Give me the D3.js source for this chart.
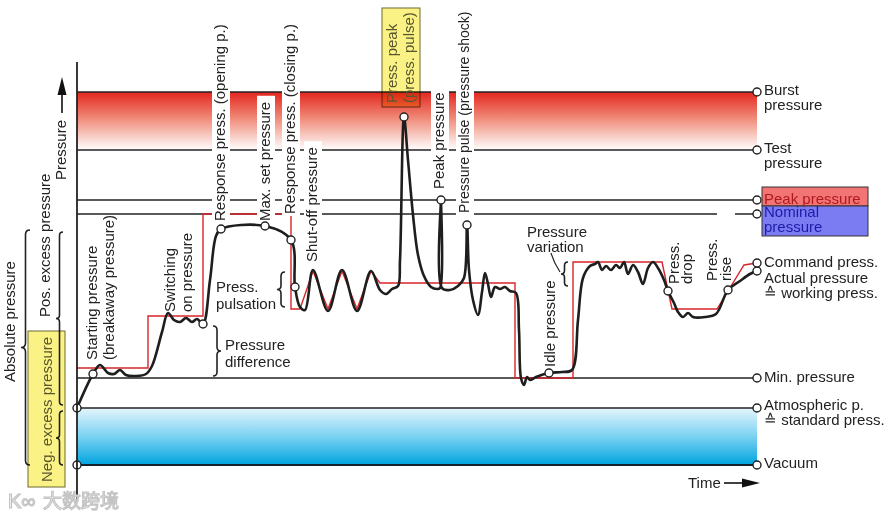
<!DOCTYPE html>
<html>
<head>
<meta charset="utf-8">
<script src="https://cdn.jsdelivr.net/npm/d3@7"></script>
<style>
  body { margin: 0; background: #fff; }
  text { font-family: "Liberation Sans", Arial, sans-serif; font-size: 15px; fill: #222; }
</style>
</head>
<body>
<svg id="chart" width="889" height="519"></svg>
<script>
// pressure levels (arbitrary units, vacuum = 0)
const levelNames = ['Burst', 'Test', 'Peak', 'Nominal', 'Min', 'Atmospheric', 'Vacuum'];
const levelValues = [373, 315, 265, 251, 87, 57, 0];
const levelLabels = [
  ['Burst', 'pressure'],
  ['Test', 'pressure'],
  ['Peak pressure'],
  ['Nominal', 'pressure'],
  ['Min. pressure'],
  ['Atmospheric p.', '\u2259 standard press.'],
  ['Vacuum']
];

// command pressure (red step line)
const commandTime = [0, 71, 71, 126, 126, 214, 214, 223, 236, 251, 265, 280, 294, 303, 438, 438, 496, 496, 585, 595, 640, 667, 680];
const commandPressure = [97, 97, 149, 149, 251, 251, 156, 156, 194, 156, 194, 156, 194, 182, 182, 87, 87, 203, 203, 156, 156, 200, 202];

// actual pressure (black curve)
const actualTime = [0, 16, 23, 31, 37, 43, 49, 59, 69, 75, 85, 91, 97, 103, 109, 115, 120, 126, 133, 139, 144,
  188, 214, 218, 223, 228, 236, 251, 265, 280, 294, 303, 309, 315, 321, 323, 327, 331, 336, 341, 347, 354, 360,
  363, 364, 365, 373, 381, 387, 390, 392, 396, 401, 405, 408, 411, 414, 418, 423, 428, 433, 439, 442, 444, 447,
  450, 453, 459, 472, 485, 495, 501, 506, 513, 518, 521, 525, 529, 534, 539, 543, 547, 551, 556, 561, 566, 571,
  576, 581, 587, 591, 597, 601, 606, 611, 616, 628, 639, 651, 663, 673, 680];
const actualPressure = [57, 91, 100, 92, 91, 95, 90, 89, 91, 99, 133, 152, 145, 143, 147, 143, 146, 141, 185, 229, 236,
  239, 225, 178, 158, 155, 195, 154, 195, 154, 194, 175, 171, 176, 179, 205, 348, 305, 250, 210, 189, 178, 176,
  177, 265, 177, 175, 179, 187, 240, 195, 165, 150, 173, 192, 181, 168, 178, 176, 178, 174, 172, 135, 87, 80,
  88, 85, 88, 92, 93, 95, 145, 187, 199, 201, 203, 195, 199, 195, 200, 197, 203, 191, 200, 193, 181, 197,
  203, 197, 185, 174, 162, 153, 148, 152, 148, 148, 151, 175, 184, 191, 194];

// points on the actual curve marked with a circle
const markerTimes = [0, 16, 126, 144, 188, 214, 218, 327, 364, 390, 472, 591, 651, 680];

const width = 889, height = 519;
const x = d3.scaleLinear().domain([0, 680]).range([77, 757]);
const y = d3.scaleLinear().domain([0, 373]).range([465, 92]);

const svg = d3.select('#chart');
const defs = svg.append('defs');

const redGrad = defs.append('linearGradient').attr('id', 'redGrad')
  .attr('x1', 0).attr('y1', 0).attr('x2', 0).attr('y2', 1);
redGrad.append('stop').attr('offset', 0).attr('stop-color', '#e3261f');
redGrad.append('stop').attr('offset', 0.45).attr('stop-color', '#f08a78');
redGrad.append('stop').attr('offset', 1).attr('stop-color', '#ffffff');

const blueGrad = defs.append('linearGradient').attr('id', 'blueGrad')
  .attr('x1', 0).attr('y1', 0).attr('x2', 0).attr('y2', 1);
blueGrad.append('stop').attr('offset', 0).attr('stop-color', '#e4f5fc');
blueGrad.append('stop').attr('offset', 0.5).attr('stop-color', '#7ad2f2');
blueGrad.append('stop').attr('offset', 1).attr('stop-color', '#00a4de');

// bands
svg.append('rect')
  .attr('x', x(0)).attr('y', y(levelValues[0]))
  .attr('width', x(680) - x(0)).attr('height', y(levelValues[1]) - y(levelValues[0]))
  .attr('fill', 'url(#redGrad)');
svg.append('rect')
  .attr('x', x(0)).attr('y', y(levelValues[5]))
  .attr('width', x(680) - x(0)).attr('height', y(0) - y(levelValues[5]))
  .attr('fill', 'url(#blueGrad)');

// level lines
svg.selectAll('.level')
  .data(levelValues)
  .enter()
  .append('line')
  .attr('x1', x(0)).attr('x2', x(680))
  .attr('y1', d => y(d)).attr('y2', d => y(d))
  .attr('stroke', (d, i) => i === 6 ? '#16222c' : '#222')
  .attr('stroke-width', (d, i) => i === 6 ? 2.2 : 1.6);

// gap in nominal line
svg.append('rect')
  .attr('x', x(640)).attr('y', y(251) - 3)
  .attr('width', x(658) - x(640)).attr('height', 6)
  .attr('fill', '#fff');

// command line
const line = d3.line().x(d => x(d[0])).y(d => y(d[1]));
svg.append('path')
  .datum(d3.zip(commandTime, commandPressure))
  .attr('d', line)
  .attr('fill', 'none')
  .attr('stroke', '#d8262a')
  .attr('stroke-width', 1.4);

// vertical annotations (positions in time / pressure units)
const vLabels = [
  { lines: ['Starting pressure', '(breakaway pressure)'], t: [20, 37], p: 105 },
  { lines: ['Switching', 'on pressure'], t: [98, 115], p: 153 },
  { lines: ['Response press. (opening p.)'], t: [148], p: 244, bg: true },
  { lines: ['Max. set pressure'], t: [193], p: 244, bg: true },
  { lines: ['Response press. (closing p.)'], t: [218], p: 251, bg: true },
  { lines: ['Shut-off pressure'], t: [240], p: 203, bg: true },
  { lines: ['Press. peak', '(press. pulse)'], t: [320, 337], p: 362, color: '#5c5c5c' },
  { lines: ['Peak pressure'], t: [367], p: 276, bg: true },
  { lines: ['Pressure pulse (pressure shock)'], t: [392], p: 252, bg: true, size: 14 },
  { lines: ['Idle pressure'], t: [478], p: 98 },
  { lines: ['Press.', 'drop'], t: [602, 615], p: 181 },
  { lines: ['Press.', 'rise'], t: [640, 654], p: 184 }
];

vLabels.forEach(lab => {
  lab.lines.forEach((txt, k) => {
    const g = svg.append('g')
      .attr('transform', `translate(${x(lab.t[k])},${y(lab.p)}) rotate(-90)`);
    const bgRect = lab.bg ? g.append('rect') : null;
    const t = g.append('text').text(txt).attr('x', 0).attr('y', 0);
    if (lab.color) t.style('fill', lab.color);
    if (lab.size) t.style('font-size', lab.size + 'px');
    if (bgRect) {
      const len = t.node().getComputedTextLength();
      bgRect.attr('x', -2).attr('y', -13).attr('width', len + 8).attr('height', 18).attr('fill', '#fff');
    }
  });
});

// horizontal annotations
const hLabels = [
  { lines: ['Press.', 'pulsation'], t: 139, p: [173, 156] },
  { lines: ['Pressure', 'difference'], t: 148, p: [115, 98] },
  { lines: ['Pressure', 'variation'], t: 450, p: [228, 213] }
];
hLabels.forEach(lab => {
  lab.lines.forEach((txt, k) => {
    svg.append('text').text(txt).attr('x', x(lab.t)).attr('y', y(lab.p[k]));
  });
});

// braces: ends at x0, tip at x0 + dir*w
function brace(x0, y1, y2, dir, w) {
  const ym = (y1 + y2) / 2;
  const xs = x0 + dir * w / 2;
  const xt = x0 + dir * w;
  const r = Math.min(w / 2, (y2 - y1) / 6);
  return `M${x0},${y1} Q${xs},${y1} ${xs},${y1 + r} L${xs},${ym - r} Q${xs},${ym} ${xt},${ym}` +
    ` Q${xs},${ym} ${xs},${ym + r} L${xs},${y2 - r} Q${xs},${y2} ${x0},${y2}`;
}
const braces = [
  [30, 230, 465, -1, 9],
  [63, 232, 405, -1, 7],
  [63, 411, 465, -1, 7],
  [213, 326, 376, 1, 8],
  [285, 272, 307, -1, 8],
  [568, 262, 286, -1, 7]
];
svg.selectAll('.brace')
  .data(braces)
  .enter()
  .append('path')
  .attr('d', d => brace(...d))
  .attr('fill', 'none')
  .attr('stroke', '#222')
  .attr('stroke-width', 1.6);

// leader for pressure variation
svg.append('path')
  .attr('d', `M${x(474)},${y(212)} Q${x(477)},${y(202)} ${x(483)},${y(193)}`)
  .attr('fill', 'none').attr('stroke', '#222').attr('stroke-width', 1.2);

// left rotated texts
svg.append('text').text('Absolute pressure')
  .attr('transform', 'translate(15,382) rotate(-90)');
svg.append('text').text('Pos. excess pressure')
  .attr('transform', 'translate(50,317) rotate(-90)');
svg.append('text').text('Neg. excess pressure')
  .attr('transform', 'translate(52,482) rotate(-90)')
  .style('fill', '#5c5c5c');

// actual curve
const curve = d3.line().x(d => x(d[0])).y(d => y(d[1])).curve(d3.curveCatmullRom.alpha(0.5));
svg.append('path')
  .datum(d3.zip(actualTime, actualPressure))
  .attr('d', curve)
  .attr('fill', 'none')
  .attr('stroke', '#1e1e1e')
  .attr('stroke-width', 2.6)
  .attr('stroke-linejoin', 'round');

// circles
const markers = markerTimes.map(t => [t, actualPressure[actualTime.indexOf(t)]]);
levelValues.forEach(v => markers.push([680, v]));
markers.push([0, 0]);
markers.push([680, commandPressure[commandPressure.length - 1]]);
svg.selectAll('.marker')
  .data(markers)
  .enter()
  .append('circle')
  .attr('cx', d => x(d[0])).attr('cy', d => y(d[1]))
  .attr('r', 4)
  .attr('fill', '#fff')
  .attr('stroke', '#222')
  .attr('stroke-width', 1.4);

// yellow highlights
svg.append('rect')
  .attr('x', 382).attr('y', 8).attr('width', 38).attr('height', 99)
  .attr('fill', '#faf285').attr('stroke', '#6e6a30').attr('stroke-width', 1)
  .style('mix-blend-mode', 'multiply');
svg.append('rect')
  .attr('x', 28).attr('y', 331).attr('width', 37).attr('height', 156)
  .attr('fill', '#faf285').attr('stroke', '#6e6a30').attr('stroke-width', 1)
  .style('mix-blend-mode', 'multiply');

// right labels
const rightX = 764;
svg.append('rect').attr('x', 762).attr('y', y(265) - 13).attr('width', 106).attr('height', 19)
  .attr('fill', '#f27474').attr('stroke', '#333').attr('stroke-width', 1);
svg.append('rect').attr('x', 762).attr('y', y(265) + 6).attr('width', 106).attr('height', 30)
  .attr('fill', '#7b7cf2').attr('stroke', '#333').attr('stroke-width', 1);

const labelOffset = [3, 3, 4, 3, 4, 2, 3];
const labelStep = [14.5, 14.5, 15, 15, 15, 15, 15];
const labelColor = ['#222', '#222', '#b01a1e', '#1c1ca8', '#222', '#222', '#222'];
levelLabels.forEach((lines, i) => {
  lines.forEach((txt, k) => {
    svg.append('text').text(txt)
      .attr('x', rightX)
      .attr('y', y(levelValues[i]) + labelOffset[i] + k * labelStep[i])
      .style('fill', labelColor[i]);
  });
});
const seriesLabels = ['Command press.', 'Actual pressure', '\u2259 working press.'];
seriesLabels.forEach((txt, k) => {
  svg.append('text').text(txt)
    .attr('x', rightX)
    .attr('y', y(202) + 4 + k * 15.5);
});

// vertical axis
svg.append('line')
  .attr('x1', x(0)).attr('x2', x(0))
  .attr('y1', 62).attr('y2', 502)
  .attr('stroke', '#222').attr('stroke-width', 1.8);

// pressure arrow
svg.append('text').text('Pressure')
  .attr('transform', 'translate(66,180) rotate(-90)');
svg.append('line').attr('x1', 62).attr('x2', 62).attr('y1', 92).attr('y2', 113)
  .attr('stroke', '#111').attr('stroke-width', 1.6);
svg.append('path').attr('d', 'M62,77 L57.5,95 L66.5,95 Z').attr('fill', '#111');

// time arrow
svg.append('text').text('Time').attr('x', 688).attr('y', 488);
svg.append('line').attr('x1', 724).attr('x2', 745).attr('y1', 483).attr('y2', 483)
  .attr('stroke', '#111').attr('stroke-width', 1.6);
svg.append('path').attr('d', 'M760,483 L742,478.5 L742,487.5 Z').attr('fill', '#111');

// watermark
svg.append('text').text('K\u221e')
  .attr('x', 8).attr('y', 508)
  .style('font-size', '20px').style('fill', '#fff')
  .style('stroke', '#c4c4c4').style('stroke-width', 1.2);
svg.append('text').text('大数跨境')
  .attr('x', 43).attr('y', 508)
  .style('font-family', '"Noto Sans CJK SC", sans-serif')
  .style('font-size', '19px').style('fill', '#fff')
  .style('stroke', '#c4c4c4').style('stroke-width', 1.2);
</script>
</body>
</html>
